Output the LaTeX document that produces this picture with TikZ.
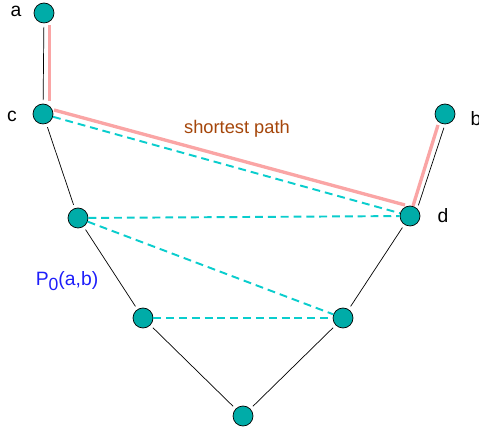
\documentclass[tikz,border=0pt]{standalone}
\usepackage{fontspec}
\setmainfont{Liberation Sans}
\usetikzlibrary{calc}

\definecolor{vertfill}{RGB}{0,172,168}
\definecolor{pathpink}{RGB}{250,165,165}
\definecolor{chordcyan}{RGB}{10,205,205}
\definecolor{labelbrown}{RGB}{165,70,10}
\definecolor{labelblue}{RGB}{30,30,250}

\tikzset{
    vertex/.style={circle, draw=black, fill=vertfill, minimum size=0.4cm, inner sep=0pt},
    edge/.style={draw=black, shorten <=2pt, shorten >=2pt},
    chord/.style={draw=chordcyan, line width=1.1pt, dash pattern=on 4.5pt off 2.8pt},
    shortpath/.style={draw=pathpink, line width=1.9pt},
    vlabel/.style={font=\fontsize{11}{13}\selectfont}
}

\begin{document}
\begin{tikzpicture}[x=0.02cm, y=-0.02cm]
    \useasboundingbox (0,0) rectangle (479,431);

    % vertices of the polygon
    \node[vertex] (a) at (44,13) {};
    \node[vertex] (c) at (43,114) {};
    \node[vertex] (l1) at (78,218) {};
    \node[vertex] (l2) at (143,318) {};
    \node[vertex] (bot) at (243,416) {};
    \node[vertex] (r2) at (343,318) {};
    \node[vertex] (d) at (410,216) {};
    \node[vertex] (b) at (445,114) {};

    % labels
    \node[vlabel] (la) at (16,11) {a};
    \node[vlabel] (lc) at (12,116) {c};
    \node[vlabel] (ld) at (443,216) {d};
    \node[vlabel] (lb) at (476,119) {b};
    \node[vlabel, text=labelblue] (lp) at (67,281) {P\raisebox{-0.45ex}{\fontsize{10}{12}\selectfont 0}(a,b)};
    \node[font=\fontsize{10.4}{12}\selectfont, text=labelbrown] (lsp) at (237,129) {shortest path};

    % shortest path, drawn beside the edges
    \coordinate (s1) at (49.5,25);
    \coordinate (s2) at (49.5,101);
    \coordinate (s3) at (54,110);
    \coordinate (s4) at (405,205);
    \coordinate (s5) at (413,206);
    \coordinate (s6) at (438,125);
    \draw[shortpath] (s1) -- (s2);
    \draw[shortpath] (s3) -- (s4);
    \draw[shortpath] (s5) -- (s6);

    % boundary edges
    \draw[edge] (a) -- (c);
    \draw[edge] (c) -- (l1);
    \draw[edge] (l1) -- (l2);
    \draw[edge] (l2) -- (bot);
    \draw[edge] (bot) -- (r2);
    \draw[edge] (r2) -- (d);
    \draw[edge] (d.north east) -- (b.south);

    % chords
    \draw[chord] (c) -- (d);
    \draw[chord] (l1) -- (d);
    \draw[chord] (l1) -- (r2);
    \draw[chord] (l2) -- (r2);
\end{tikzpicture}
\end{document}
